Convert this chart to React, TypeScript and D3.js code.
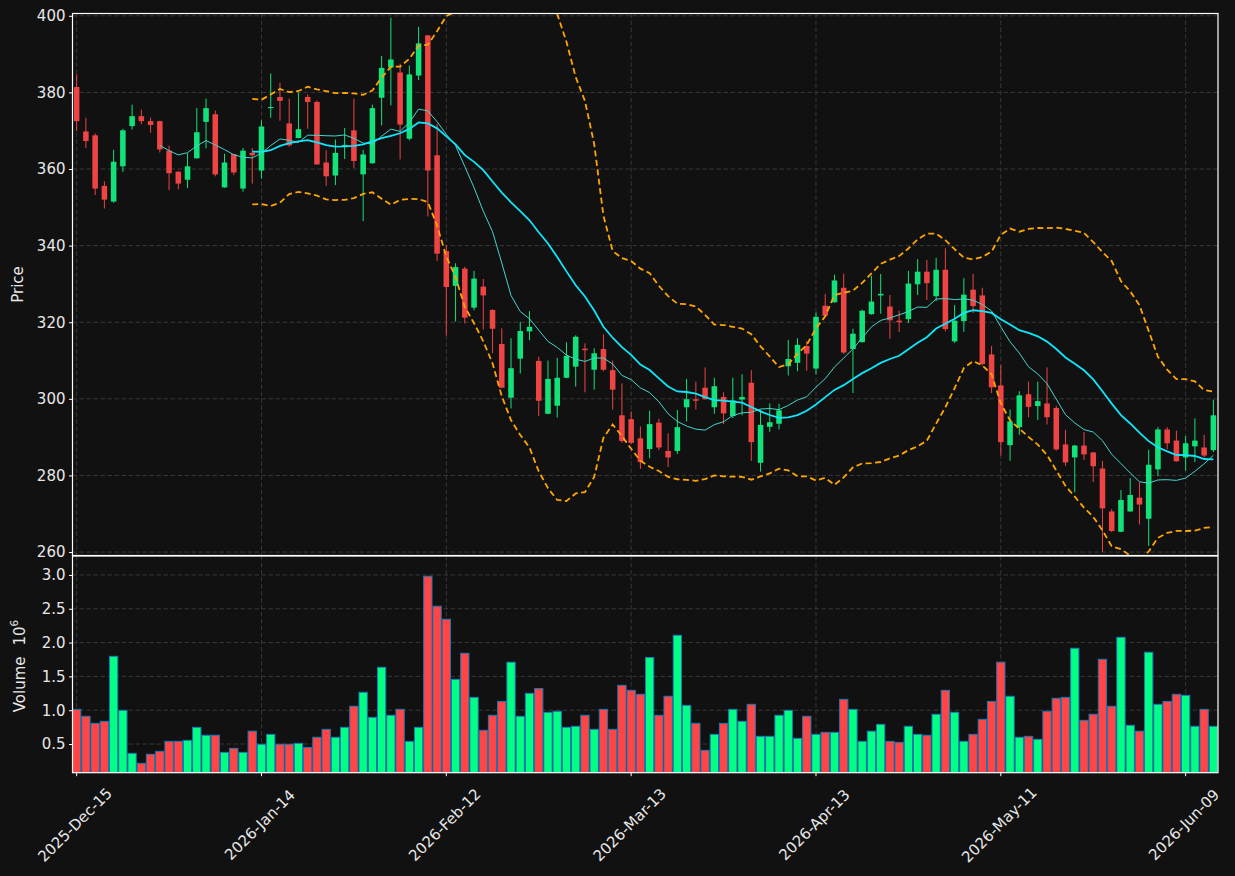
import React, { useEffect, useRef } from "react";
import * as d3 from "d3";

// daily OHLC (index 0 = 2025-Dec-15)
const opens = [
  381.4, 369.8, 368.8, 355.6, 351.5, 360.7, 371.2, 373.8, 372.5, 372.5,
  364.8, 359.3, 357.2, 362.8, 372.3, 374.3, 355.2, 363.9, 354.9, 364.2,
  359.6, 375.9, 378.8, 371.9, 368.1, 378.8, 377.5, 361.7, 358.3, 366.0,
  370.1, 358.6, 361.5, 378.6, 386.5, 385.2, 367.9, 384.4, 394.9, 363.6,
  338.6, 329.5, 334.0, 323.8, 329.3, 323.2, 314.3, 300.3, 310.5, 317.6,
  309.9, 296.1, 298.2, 305.5, 308.4, 313.1, 307.6, 313.0, 307.5, 295.7,
  294.7, 289.7, 286.9, 293.8, 286.4, 286.4, 297.8, 299.9, 302.9, 297.8,
  300.5, 295.5, 299.8, 304.2, 283.3, 292.7, 293.5, 308.5, 309.4, 313.8,
  307.9, 324.3, 325.2, 329.0, 313.0, 314.8, 322.1, 327.0, 324.1, 320.4,
  320.8, 329.9, 333.2, 326.8, 333.7, 315.0, 320.3, 328.5, 327.0, 311.6,
  303.5, 287.9, 292.6, 301.2, 298.1, 298.8, 297.6, 288.1, 284.7, 287.8,
  286.0, 281.8, 270.6, 265.3, 270.6, 274.2, 268.7, 281.6, 292.0, 289.1,
  284.7, 287.6, 287.3, 286.6,
];
const highs = [
  384.7, 373.4, 369.3, 356.8, 365.0, 370.5, 376.8, 375.5, 373.4, 372.6,
  366.1, 359.4, 364.1, 375.9, 378.4, 375.3, 364.0, 364.0, 365.5, 365.5,
  372.7, 384.9, 382.5, 378.4, 380.0, 379.5, 377.9, 364.9, 367.7, 370.7,
  378.4, 365.0, 376.8, 389.5, 399.5, 387.5, 387.0, 397.1, 395.0, 371.7,
  340.1, 335.4, 334.5, 333.4, 331.3, 323.4, 318.4, 315.8, 320.1, 322.9,
  311.0, 310.0, 310.7, 314.8, 316.6, 314.5, 313.2, 316.8, 310.0, 304.0,
  296.7, 292.8, 296.9, 294.8, 291.0, 297.1, 305.2, 304.5, 308.2, 305.5,
  301.7, 305.5, 306.4, 307.5, 297.2, 298.8, 298.7, 315.4, 315.8, 315.1,
  322.6, 327.4, 332.4, 332.7, 318.3, 323.3, 332.1, 332.6, 327.1, 323.0,
  333.4, 336.5, 336.3, 336.8, 339.3, 324.5, 331.5, 332.6, 329.0, 313.8,
  308.8, 297.2, 302.0, 304.5, 304.5, 308.2, 298.2, 291.9, 288.0, 291.3,
  286.1, 283.8, 271.2, 276.2, 279.3, 278.2, 286.7, 292.6, 292.6, 291.7,
  290.3, 294.9, 290.6, 299.8,
];
const lows = [
  369.9, 365.5, 353.2, 349.7, 351.2, 359.2, 370.3, 371.7, 369.5, 364.3,
  354.5, 354.7, 355.0, 362.7, 365.4, 358.1, 355.1, 358.4, 354.1, 356.2,
  357.5, 373.4, 372.6, 365.8, 368.0, 370.5, 361.1, 355.6, 355.8, 362.6,
  360.3, 346.4, 361.4, 371.4, 376.6, 362.5, 367.5, 383.2, 347.6, 336.0,
  316.5, 320.2, 319.7, 323.1, 318.1, 311.9, 302.8, 297.5, 306.6, 315.3,
  295.5, 296.0, 295.1, 305.4, 303.2, 301.7, 302.4, 307.2, 297.2, 288.5,
  288.3, 281.7, 284.5, 286.6, 282.2, 285.6, 294.1, 297.2, 299.8, 296.1,
  293.4, 295.0, 295.7, 283.8, 281.0, 291.4, 292.0, 306.1, 307.2, 307.3,
  306.4, 321.6, 325.1, 311.7, 301.5, 314.7, 322.0, 322.2, 315.7, 317.4,
  319.8, 327.1, 325.8, 325.5, 317.6, 314.6, 317.5, 322.4, 308.7, 301.5,
  285.2, 283.8, 290.6, 295.2, 294.5, 293.3, 286.5, 282.5, 275.6, 284.0,
  278.3, 260.0, 265.2, 265.2, 270.5, 267.2, 261.6, 279.8, 286.8, 283.6,
  281.2, 283.5, 284.7, 286.1,
];
const closes = [
  372.5, 367.3, 354.9, 352.0, 361.9, 370.1, 373.8, 372.5, 371.5, 365.1,
  358.9, 356.2, 360.7, 369.6, 375.9, 358.6, 361.7, 359.1, 364.8, 363.6,
  371.1, 376.2, 377.8, 366.2, 370.4, 377.5, 361.2, 358.1, 364.2, 366.3,
  362.1, 363.8, 375.9, 386.4, 388.6, 371.6, 384.7, 392.8, 359.6, 337.9,
  329.2, 334.4, 321.2, 331.4, 327.0, 318.3, 302.9, 308.0, 317.7, 318.8,
  299.5, 305.2, 305.5, 311.2, 316.2, 312.7, 311.9, 307.6, 302.4, 289.0,
  288.5, 283.5, 293.4, 287.3, 284.7, 292.6, 299.9, 299.5, 299.9, 303.3,
  296.2, 299.6, 300.5, 288.7, 293.2, 293.9, 297.0, 310.4, 314.1, 311.8,
  321.4, 321.7, 330.9, 312.1, 317.0, 323.0, 325.4, 327.4, 320.5, 320.0,
  330.1, 333.2, 330.2, 333.7, 318.2, 320.4, 327.2, 324.2, 309.1, 303.0,
  288.7, 294.1, 300.9, 297.9, 299.4, 295.2, 286.8, 283.4, 287.8, 285.5,
  282.4, 271.4, 265.5, 273.6, 274.9, 272.4, 282.8, 292.0, 288.4, 283.7,
  288.4, 289.1, 285.2, 295.7,
];
// volume in millions
const volumes = [
  1.013, 0.91, 0.806, 0.836, 1.797, 0.998, 0.362, 0.215, 0.348, 0.392,
  0.54, 0.54, 0.555, 0.747, 0.63, 0.63, 0.377, 0.436, 0.377, 0.69,
  0.496, 0.643, 0.496, 0.496, 0.51, 0.45, 0.6, 0.717, 0.6, 0.747,
  1.058, 1.265, 0.895, 1.635, 0.925, 1.013, 0.54, 0.747, 2.98, 2.537,
  2.345, 1.457, 1.842, 1.19, 0.703, 0.925, 1.13, 1.71, 0.91, 1.25,
  1.32, 0.969, 0.984, 0.747, 0.762, 0.925, 0.717, 1.013, 0.717, 1.368,
  1.294, 1.235, 1.78, 0.925, 1.206, 2.108, 1.072, 0.806, 0.407, 0.643,
  0.806, 1.013, 0.836, 1.087, 0.614, 0.614, 0.925, 0.998, 0.584, 0.91,
  0.643, 0.673, 0.673, 1.161, 1.013, 0.54, 0.69, 0.791, 0.54, 0.525,
  0.762, 0.643, 0.63, 0.94, 1.294, 0.969, 0.54, 0.643, 0.865, 1.13,
  1.71, 1.206, 0.6, 0.614, 0.57, 0.984, 1.176, 1.19, 1.916, 0.85,
  0.94, 1.753, 1.058, 2.078, 0.777, 0.69, 1.857, 1.087, 1.13, 1.235,
  1.22, 0.762, 1.013, 0.762,
];

const tickIndex = [0, 20, 40, 60, 80, 100, 120];
const tickLabels = ["2025-Dec-15", "2026-Jan-14", "2026-Feb-12", "2026-Mar-13", "2026-Apr-13", "2026-May-11", "2026-Jun-09"];
const priceTicks = [260, 280, 300, 320, 340, 360, 380, 400];
const volumeTicks = [0.5, 1.0, 1.5, 2.0, 2.5, 3.0];

const FONT = "DejaVu Sans, sans-serif";
const UP = "#12e27a";
const DOWN = "#ee4444";
const VOL_UP = "#00ff84";
const VOL_DOWN = "#ff4545";

export default function App() {
  const ref = useRef<SVGSVGElement>(null);

  useEffect(() => {
    const svg = d3.select(ref.current);
    svg.selectAll("*").remove();

    const left = 72.5, right = 1218;
    const pTop = 13.5, pBottom = 555.5;
    const vTop = 556, vBottom = 772.7;

    const x = d3.scaleLinear().domain([-0.45, 123.5]).range([left, right]);
    const yP = d3.scaleLinear().domain([259.1, 400.6]).range([pBottom, pTop]);
    const yV = d3.scaleLinear().domain([0.076, 3.28]).range([vBottom, vTop]);
    const step = x(1) - x(0);
    const idx = d3.range(closes.length);
    const isUp = (i: number) => closes[i] >= opens[i];

    // moving averages + bollinger (20, 2)
    const sma = (n: number) => closes.map((_, i) => (i < n - 1 ? null : d3.mean(closes.slice(i - n + 1, i + 1))));
    const sma10 = sma(10);
    const sma20 = sma(20);
    const sd20 = closes.map((_, i) => (i < 19 ? null : d3.deviation(closes.slice(i - 19, i + 1))));
    const upper = sma20.map((m, i) => (m == null ? null : m + 2 * (sd20[i] as number)));
    const lower = sma20.map((m, i) => (m == null ? null : m - 2 * (sd20[i] as number)));

    svg.append("rect").attr("width", 1235).attr("height", 876).attr("fill", "#111111");

    const defs = svg.append("defs");
    defs.append("clipPath").attr("id", "clipPrice")
      .append("rect").attr("x", left).attr("y", pTop).attr("width", right - left).attr("height", pBottom - pTop);
    defs.append("clipPath").attr("id", "clipVol")
      .append("rect").attr("x", left).attr("y", vTop).attr("width", right - left).attr("height", vBottom - vTop);

    // grid
    const grid = svg.append("g")
      .attr("stroke", "#3c3c3c")
      .attr("stroke-width", 0.9)
      .attr("stroke-dasharray", "4.5,2.5");
    priceTicks.forEach(t => {
      grid.append("line").attr("x1", left).attr("x2", right).attr("y1", yP(t)).attr("y2", yP(t));
    });
    volumeTicks.forEach(t => {
      grid.append("line").attr("x1", left).attr("x2", right).attr("y1", yV(t)).attr("y2", yV(t));
    });
    tickIndex.forEach(t => {
      grid.append("line").attr("x1", x(t)).attr("x2", x(t)).attr("y1", pTop).attr("y2", pBottom);
      grid.append("line").attr("x1", x(t)).attr("x2", x(t)).attr("y1", vTop).attr("y2", vBottom);
    });

    // candles
    const pg = svg.append("g").attr("clip-path", "url(#clipPrice)");
    pg.selectAll("line.wick")
      .data(idx)
      .join("line")
      .attr("class", "wick")
      .attr("x1", i => x(i))
      .attr("x2", i => x(i))
      .attr("y1", i => yP(highs[i]))
      .attr("y2", i => yP(lows[i]))
      .attr("stroke", i => (isUp(i) ? UP : DOWN))
      .attr("stroke-width", 1);
    pg.selectAll("rect.body")
      .data(idx)
      .join("rect")
      .attr("class", "body")
      .attr("x", i => x(i) - step * 0.3)
      .attr("width", step * 0.6)
      .attr("y", i => yP(Math.max(opens[i], closes[i])))
      .attr("height", i => Math.max(1, Math.abs(yP(opens[i]) - yP(closes[i]))))
      .attr("fill", i => (isUp(i) ? UP : DOWN));

    const line = (vals: (number | null | undefined)[]) =>
      d3.line<number>()
        .defined(i => vals[i] != null)
        .x(i => x(i))
        .y(i => yP(vals[i] as number))(idx);

    pg.append("path").attr("d", line(sma10)).attr("fill", "none")
      .attr("stroke", "#44d6cc").attr("stroke-width", 1);
    pg.append("path").attr("d", line(sma20)).attr("fill", "none")
      .attr("stroke", "#10e6fa").attr("stroke-width", 1.8);
    [upper, lower].forEach(band => {
      pg.append("path").attr("d", line(band)).attr("fill", "none")
        .attr("stroke", "#ffa500").attr("stroke-width", 1.8)
        .attr("stroke-dasharray", "6,3.5");
    });

    // volume bars
    const vg = svg.append("g").attr("clip-path", "url(#clipVol)");
    vg.selectAll("rect")
      .data(idx)
      .join("rect")
      .attr("x", i => x(i) - step * 0.45)
      .attr("width", step * 0.9)
      .attr("y", i => yV(volumes[i]))
      .attr("height", i => yV(0) - yV(volumes[i]))
      .attr("fill", i => (isUp(i) ? VOL_UP : VOL_DOWN))
      .attr("stroke", "#1f77b4")
      .attr("stroke-width", 1);

    // axes
    const styleAxis = (g: d3.Selection<SVGGElement, unknown, null, undefined>) => {
      g.select(".domain").remove();
      g.selectAll("line").attr("stroke", "#ffffff");
      g.selectAll("text").attr("fill", "#e8e8e8").attr("font-family", FONT).attr("font-size", 15);
    };
    svg.append("g").attr("transform", `translate(${left},0)`)
      .call(d3.axisLeft(yP).tickValues(priceTicks).tickFormat(d3.format("d")).tickSize(3.5).tickPadding(3.5))
      .call(styleAxis);
    svg.append("g").attr("transform", `translate(${left},0)`)
      .call(d3.axisLeft(yV).tickValues(volumeTicks).tickFormat(d3.format(".1f")).tickSize(3.5).tickPadding(3.5))
      .call(styleAxis);

    const xt = svg.append("g");
    tickIndex.forEach((t, k) => {
      xt.append("line").attr("x1", x(t)).attr("x2", x(t)).attr("y1", vBottom).attr("y2", vBottom + 3.5)
        .attr("stroke", "#ffffff");
      xt.append("text")
        .attr("transform", `translate(${x(t) - 1.5},825) rotate(-45)`)
        .attr("text-anchor", "middle")
        .attr("dominant-baseline", "central")
        .attr("fill", "#e8e8e8")
        .attr("font-family", FONT)
        .attr("font-size", 15)
        .text(tickLabels[k]);
    });

    // spines
    svg.append("rect").attr("x", left).attr("y", pTop).attr("width", right - left).attr("height", pBottom - pTop)
      .attr("fill", "none").attr("stroke", "#ffffff").attr("stroke-width", 1.2);
    svg.append("rect").attr("x", left).attr("y", vTop).attr("width", right - left).attr("height", vBottom - vTop)
      .attr("fill", "none").attr("stroke", "#ffffff").attr("stroke-width", 1.2);

    // axis titles
    svg.append("text")
      .attr("transform", `translate(18,${(pTop + pBottom) / 2}) rotate(-90)`)
      .attr("text-anchor", "middle")
      .attr("dominant-baseline", "central")
      .attr("fill", "#e8e8e8")
      .attr("font-family", FONT)
      .attr("font-size", 15)
      .text("Price");
    const vt = svg.append("text")
      .attr("transform", `translate(20,666) rotate(-90)`)
      .attr("text-anchor", "middle")
      .attr("dominant-baseline", "central")
      .attr("fill", "#e8e8e8")
      .attr("font-family", FONT)
      .attr("font-size", 15);
    vt.append("tspan").text("Volume");
    vt.append("tspan").attr("dx", 11).text("10");
    vt.append("tspan").attr("dy", -6).attr("font-size", 10.5).text("6");
  }, []);

  return (
    <svg
      ref={ref}
      width={1235}
      height={876}
      style={{ position: "absolute", left: 0, top: 0, display: "block" }}
    />
  );
}
